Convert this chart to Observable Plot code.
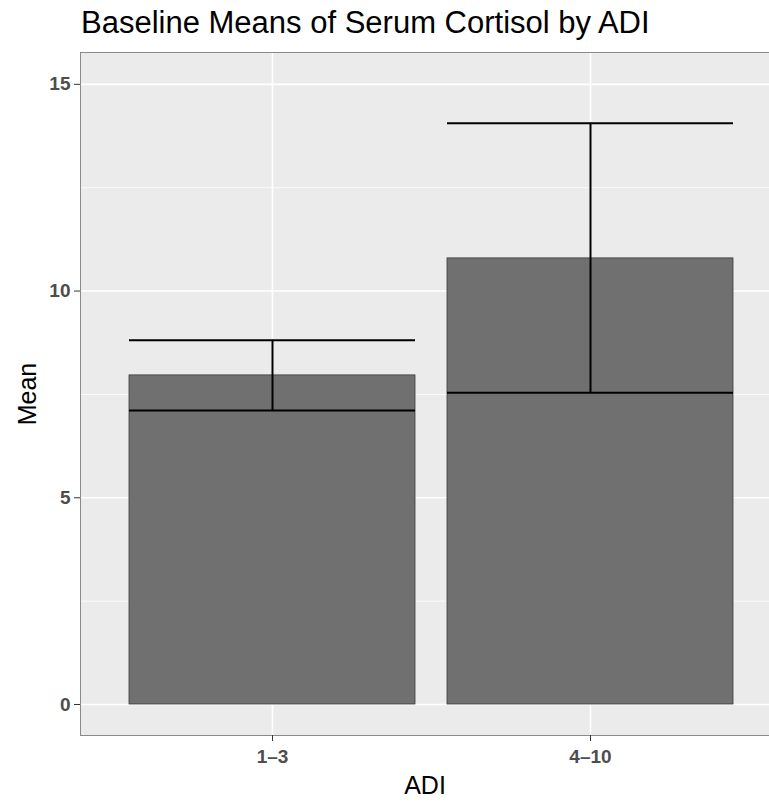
<!DOCTYPE html>
<html>
<head>
<meta charset="utf-8">
<script src="https://cdn.jsdelivr.net/npm/d3@7"></script>
<script src="https://cdn.jsdelivr.net/npm/@observablehq/plot@0.6"></script>
<style>
  html, body { margin: 0; padding: 0; background: #fff; }
  #title { font-family: "Liberation Sans", Arial, sans-serif; font-size: 31px; color: #000;
           height: 50px; line-height: 46px; padding-left: 81px; box-sizing: border-box; white-space: nowrap; }
  svg { display: block; }
  g[aria-label="y-axis tick label"] text, g[aria-label="x-axis tick label"] text {
    font-size: 19px; font-weight: bold; fill: #4D4D4D;
  }
  g[aria-label="y-axis label"] text, g[aria-label="x-axis label"] text {
    font-size: 25px; fill: #000;
  }
</style>
</head>
<body>
<div id="title">Baseline Means of Serum Cortisol by ADI</div>
<div id="chart"></div>
<script>
const categories = ["1–3", "4–10"];
const means = [7.96, 10.79];
const lower = [7.11, 7.54];
const upper = [8.81, 14.06];
const yTicks = [0, 5, 10, 15];
const yMinorTicks = [2.5, 7.5, 12.5];

const data = categories.map((c, i) => ({adi: c, mean: means[i], lo: lower[i], hi: upper[i]}));

const font = "Liberation Sans, Arial, sans-serif";

const plot = Plot.plot({
  width: 769,
  height: 752,
  marginLeft: 80,
  marginRight: 0,
  marginTop: 2,
  marginBottom: 67,
  style: {fontFamily: font, background: "#fff"},
  x: {domain: categories, paddingInner: 0.1, paddingOuter: 0.133, align: 0.58},
  y: {domain: [-0.75, 15.77]},
  marks: [
    Plot.frame({fill: "#EBEBEB"}),
    Plot.gridY(yMinorTicks, {stroke: "#fff", strokeOpacity: 1, strokeWidth: 0.8}),
    Plot.gridY(yTicks, {stroke: "#fff", strokeOpacity: 1, strokeWidth: 1.6}),
    Plot.gridX(categories, {stroke: "#fff", strokeOpacity: 1, strokeWidth: 1.6}),
    Plot.barY(data, {x: "adi", y: "mean", fill: "#707070", stroke: "#3a3a3a", strokeWidth: 0.8}),
    Plot.ruleX(data, {x: "adi", y1: "lo", y2: "hi", stroke: "#000", strokeWidth: 2}),
    Plot.tickY(data, {x: "adi", y: "lo", stroke: "#000", strokeWidth: 2}),
    Plot.tickY(data, {x: "adi", y: "hi", stroke: "#000", strokeWidth: 2}),
    Plot.frame({stroke: "#8a8a8a", strokeWidth: 1}),
    Plot.axisY(yTicks, {tickSize: 6, tickPadding: 4, stroke: "#333",
      label: "Mean", labelAnchor: "center", labelOffset: 62, labelArrow: "none"}),
    Plot.axisX({tickSize: 6, tickPadding: 8, stroke: "#333",
      label: "ADI", labelAnchor: "center", labelOffset: 58, labelArrow: "none"})
  ]
});
document.getElementById("chart").appendChild(plot);
</script>
</body>
</html>
